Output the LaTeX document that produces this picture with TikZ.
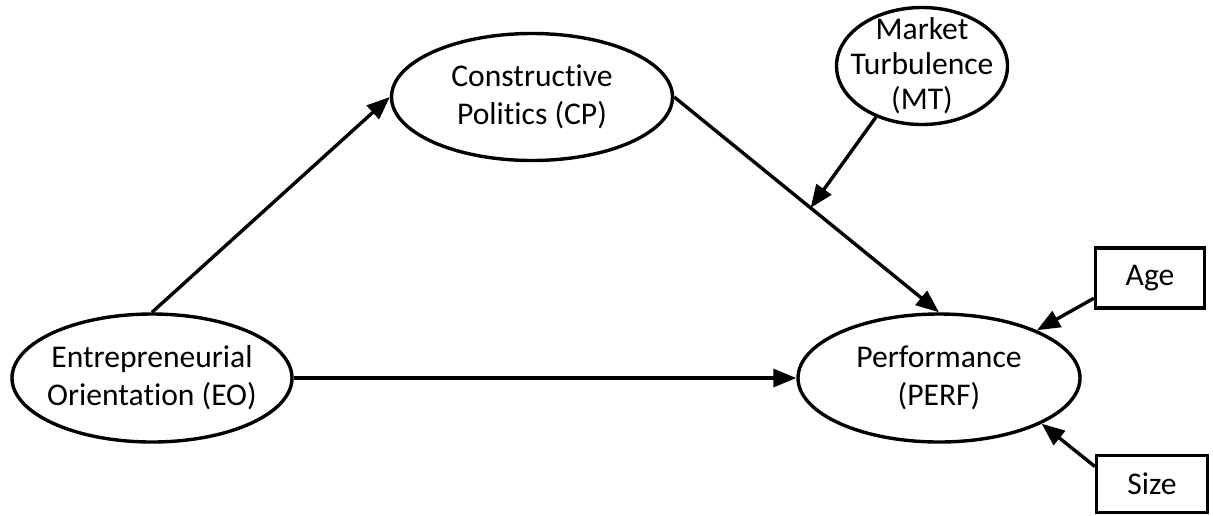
\documentclass[tikz,border=0pt]{standalone}
\usepackage{fontspec}
\setmainfont{Carlito}[Ligatures=NoCommon]
\usetikzlibrary{shapes.geometric,arrows.meta,calc}
\begin{document}
\begin{tikzpicture}[x=0.5pt,y=-0.5pt,
  latent/.style={draw, ellipse, line width=1.7pt, inner xsep=-20pt, inner ysep=-12pt, align=center,
    font=\fontsize{15.8}{19}\selectfont},
  obs/.style={draw, rectangle, line width=1.7pt, inner sep=0pt, align=center,
    font=\fontsize{15.8}{19}\selectfont},
  conn/.style={line width=1.7pt, -{Triangle[length=11.5pt,width=9pt]}}]
\useasboundingbox (0,0) rectangle (1213,515);
\node[latent, minimum width=140pt, minimum height=64pt] (EO) at (152,378) {Entrepreneurial\\Orientation (EO)};
\node[latent, minimum width=140.5pt, minimum height=63.5pt] (CP) at (532,97) {Constructive\\Politics (CP)};
\node[latent, minimum width=85.5pt, minimum height=58.5pt, font=\fontsize{15.8}{17.6}\selectfont] (MT) at (922,66) {Market\\Turbulence\\(MT)};
\node[latent, minimum width=141pt, minimum height=64pt] (PERF) at (939,378) {Performance\\(PERF)};
\node[obs, minimum width=54.5pt, minimum height=30pt] (Age) at (1150,278) {Age};
\node[obs, minimum width=55.5pt, minimum height=28.5pt] (Size) at (1152,484) {Size};
\draw[conn] (EO.north) -- (CP.west);
\draw[conn] (CP.east) -- coordinate[pos=0.515] (m) (PERF.north);
\draw[conn] (EO.east) -- (PERF.west);
\draw[conn] (MT.228) -- (m);
\draw[conn] ($(Age.south west)!0.18!(Age.north west)$) -- (PERF.26);
\draw[conn] ($(Size.north west)!0.21!(Size.south west)$) -- (PERF.336);
\end{tikzpicture}
\end{document}
